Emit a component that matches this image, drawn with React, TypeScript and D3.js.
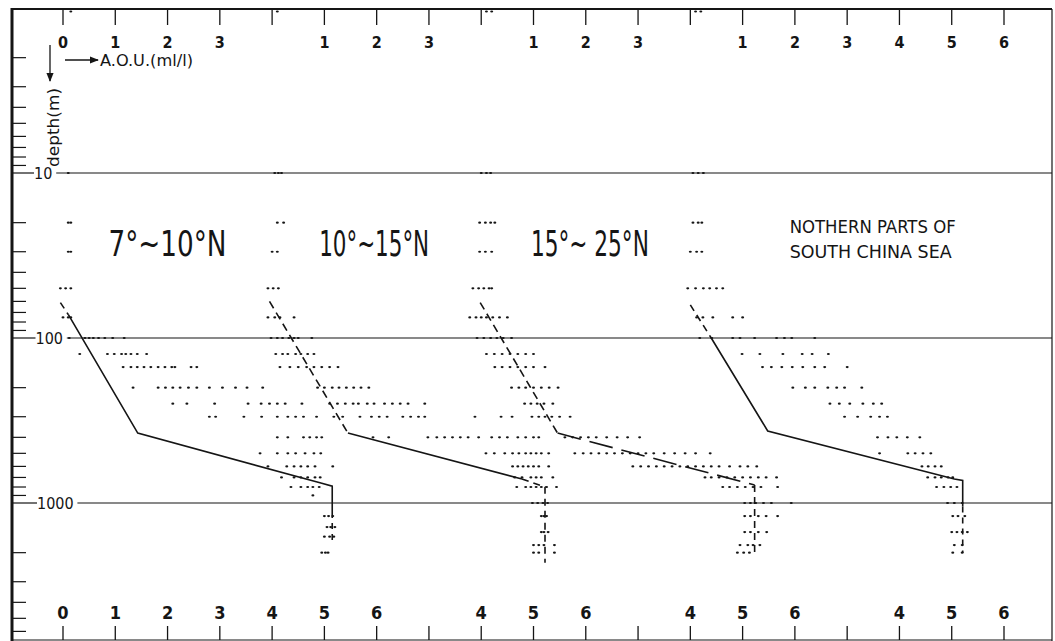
import * as d3 from "d3";
import React from "react";

// A.O.U. vertical profiles, four latitude bands, offset by 4 units each
const panelOffsets = [0, 4, 8, 12];
const topTickLabels = [[0, 1, 2, 3], [1, 2, 3], [1, 2, 3], [1, 2, 3, 4, 5, 6]];
const bottomTickLabels = [[0, 1, 2, 3, 4, 5, 6], [4, 5, 6], [4, 5, 6], [4, 5, 6]];
const panelTitles = ["7°~10°N", "10°~15°N", "15°~ 25°N"];
const regionTitle = ["NOTHERN PARTS OF", "SOUTH CHINA SEA"];
const depthLabels = [10, 100, 1000];
const surfaceDepth = 1.05;

// [depth (m), AOU values (ml/l)]
const rows1: [number, number[]][] = [
  [surfaceDepth, [0.15]],
  [10, [0.1]],
  [20, [0.1, 0.15]],
  [30, [0.1, 0.15]],
  [50, [-0.05, 0.05, 0.15]],
  [75, [0.0, 0.1, 0.15]],
  [100, [0.12, 0.42, 0.5, 0.58, 0.68, 0.8, 0.95, 1.17]],
  [125, [0.32, 0.85, 0.98, 1.12, 1.2, 1.3, 1.42, 1.6]],
  [150, [1.15, 1.3, 1.42, 1.55, 1.68, 1.82, 1.95, 2.08, 2.14, 2.45, 2.56]],
  [200, [1.34, 1.82, 1.96, 2.1, 2.24, 2.4, 2.56, 2.8, 3.05, 3.3, 3.52, 3.82]],
  [250, [2.1, 2.37, 2.9, 3.54, 3.79, 3.95, 4.1, 4.25, 4.57]],
  [300, [2.8, 2.92, 3.46, 3.8, 4.1, 4.3, 4.45, 4.6, 4.85]],
  [400, [4.1, 4.3, 4.6, 4.72, 4.85, 4.95]],
  [500, [3.77, 4.1, 4.3, 4.45, 4.63, 4.8, 4.93]],
  [600, [3.92, 4.28, 4.42, 4.55, 4.68, 4.82, 5.16]],
  [700, [4.18, 4.42, 4.55, 4.68, 4.82, 4.92]],
  [800, [4.36, 4.55, 4.68, 4.78, 4.9]],
  [900, [4.78]],
  [1200, [5.0, 5.08, 5.16]],
  [1400, [5.05, 5.12, 5.2]],
  [1600, [5.0, 5.1, 5.18]],
  [2000, [4.95, 5.02, 5.07]],
];

const rows2: [number, number[]][] = [
  [surfaceDepth, [0.1]],
  [10, [0.05, 0.12, 0.18]],
  [20, [0.1, 0.22]],
  [30, [0.0, 0.1]],
  [50, [-0.08, 0.02, 0.12]],
  [75, [-0.08, 0.05, 0.15, 0.42]],
  [100, [-0.02, 0.1, 0.2, 0.32, 0.42, 0.5, 0.76]],
  [125, [0.07, 0.2, 0.3, 0.45, 0.55, 0.68, 0.8]],
  [150, [0.15, 0.34, 0.5, 0.66, 0.8, 0.95, 1.1, 1.26]],
  [200, [0.87, 1.0, 1.15, 1.28, 1.42, 1.56, 1.7, 1.85]],
  [250, [1.1, 1.25, 1.4, 1.55, 1.65, 1.82, 1.95, 2.15, 2.3, 2.45, 2.6, 2.92]],
  [300, [1.18, 1.35, 1.68, 1.9, 2.05, 2.2, 2.5, 2.65, 2.8, 2.92, 3.88, 4.38, 4.59]],
  [400, [1.93, 2.23, 2.98, 3.15, 3.3, 3.45, 3.6, 3.75, 3.95, 4.2, 4.35, 4.5, 4.7, 4.85, 5.0, 5.1]],
  [500, [4.09, 4.25, 4.45, 4.6, 4.72, 4.85, 4.95, 5.05, 5.15, 5.29]],
  [600, [4.6, 4.7, 4.8, 4.9, 5.0, 5.1, 5.29]],
  [700, [4.64, 4.78, 4.95, 5.05, 5.15, 5.37]],
  [800, [4.68, 4.85, 4.95, 5.05, 5.15, 5.25, 5.44]],
  [1000, [4.98, 5.08, 5.18, 5.27]],
  [1200, [5.15, 5.2, 5.25]],
  [1500, [5.15, 5.2, 5.28]],
  [1800, [5.0, 5.1, 5.2, 5.4]],
  [2000, [5.0, 5.1, 5.4]],
];

const rows3: [number, number[]][] = [
  [surfaceDepth, [0.1, 0.2]],
  [10, [0.0, 0.1, 0.18]],
  [20, [-0.03, 0.08, 0.18, 0.26]],
  [30, [-0.03, 0.08, 0.2]],
  [50, [-0.16, -0.05, 0.05, 0.15, 0.2]],
  [75, [-0.22, -0.1, 0.0, 0.1, 0.22, 0.35, 0.5]],
  [100, [-0.08, 0.05, 0.18, 0.3, 0.42, 0.58]],
  [125, [0.1, 0.25, 0.4, 0.55, 0.7, 0.85, 1.0]],
  [150, [0.26, 0.4, 0.55, 0.7, 0.85, 1.0, 1.22]],
  [200, [0.58, 0.72, 0.85, 1.0, 1.15, 1.3, 1.47]],
  [250, [0.83, 0.95, 1.07, 1.2, 1.37]],
  [300, [0.97, 1.1, 1.22, 1.35, 1.5, 1.7]],
  [400, [1.6, 1.75, 1.9, 2.05, 2.2, 2.4, 2.6, 2.8, 3.03]],
  [500, [1.79, 1.95, 2.1, 2.25, 2.4, 2.55, 2.7, 2.85, 3.0, 3.15, 3.3, 3.5, 3.7, 3.9, 4.1, 4.38]],
  [600, [2.9, 3.05, 3.2, 3.35, 3.5, 3.65, 3.8, 3.95, 4.1, 4.25, 4.4, 4.55, 4.75, 4.95, 5.1, 5.27]],
  [700, [4.28, 4.4, 4.55, 4.7, 4.85, 5.0, 5.15, 5.3, 5.45, 5.65]],
  [800, [4.62, 4.75, 4.9, 5.05, 5.2, 5.35, 5.67]],
  [1000, [5.04, 5.15, 5.25, 5.4, 5.55, 5.93]],
  [1200, [5.04, 5.15, 5.3, 5.45, 5.67]],
  [1500, [5.04, 5.15, 5.3, 5.46]],
  [1800, [4.95, 5.1, 5.2, 5.33]],
  [2000, [4.9, 5.02, 5.13]],
];

const rows4: [number, number[]][] = [
  [surfaceDepth, [0.1, 0.2]],
  [10, [0.05, 0.15, 0.25]],
  [20, [0.05, 0.15, 0.22]],
  [30, [0.0, 0.12, 0.22]],
  [50, [-0.05, 0.1, 0.25, 0.37, 0.5, 0.62]],
  [75, [0.12, 0.24, 0.43, 0.81, 1.0]],
  [100, [0.18, 0.41, 0.81, 0.95, 1.23, 1.65, 1.8, 1.94, 2.38]],
  [125, [0.99, 1.33, 1.77, 2.14, 2.33, 2.64]],
  [150, [1.38, 1.55, 1.75, 1.95, 2.15, 2.38, 2.57, 3.0]],
  [200, [1.96, 2.2, 2.38, 2.63, 2.8, 2.95, 3.28]],
  [250, [2.67, 2.85, 3.05, 3.3, 3.5, 3.66]],
  [300, [2.95, 3.2, 3.45, 3.62, 3.77]],
  [400, [3.58, 3.78, 3.95, 4.15, 4.39]],
  [500, [3.62, 4.16, 4.3, 4.45, 4.6]],
  [600, [4.43, 4.55, 4.68, 4.8]],
  [700, [4.54, 4.68, 4.8, 4.93, 5.02]],
  [800, [4.71, 4.85, 4.98, 5.1]],
  [1000, [4.92, 5.05, 5.2]],
  [1200, [5.02, 5.12, 5.25]],
  [1500, [5.0, 5.1, 5.2, 5.3]],
  [1800, [5.05, 5.2]],
  [2000, [5.02, 5.2]],
];

// fitted profile pieces: [AOU, depth]
const fit1: [number, number][][] = [
  [[-0.05, 61], [0.1, 72]],
  [[0.1, 72], [1.43, 377], [4.95, 760], [5.15, 790], [5.15, 1135]],
  [[5.15, 1135], [5.15, 1700]],
];
const fit2: [number, number][][] = [
  [[-0.05, 60], [1.45, 377]],
  [[1.45, 377], [4.78, 716]],
  [[4.78, 716], [5.22, 800], [5.22, 2300]],
];
const fit3: [number, number][][] = [
  [[-0.02, 61], [1.46, 377]],
  [[1.46, 377], [5.23, 778]],
  [[5.23, 778], [5.23, 2010]],
];
const fit4: [number, number][][] = [
  [[0.0, 63], [0.4, 100]],
  [[0.4, 100], [1.48, 366], [5.05, 716], [5.21, 730], [5.21, 1050]],
  [[5.21, 1050], [5.21, 2010]],
];

const allRows = [rows1, rows2, rows3, rows4];
const allFits = [fit1, fit2, fit3, fit4];
const fitDash = [
  ["7 5", null, "6 5"],
  ["8 5", null, "7 5"],
  ["8 5", "24 9", "7 5"],
  ["7 5", null, "6 5"],
];

const W = 1055;
const H = 641;
const INK = "#151515";
const FONT = "'DejaVu Sans Condensed', 'DejaVu Sans', sans-serif";

export default function App() {
  const left = 12;
  const right = 1052;
  const top = 9;
  const bottom = 640;

  const x = d3.scaleLinear().domain([0, 18]).range([63, 1004]);
  const y = d3.scaleLog().domain([1, 1000]).range([8, 503]);

  const line = d3
    .line<[number, number]>()
    .x((d) => d[0])
    .y((d) => d[1]);

  const units = d3.range(0, 19);

  // minor depth ticks 2..9 x 10^k
  const minor: number[] = [];
  [1, 10, 100, 1000].forEach((b) => {
    for (let m = 2; m <= 9; m++) {
      const v = b * m;
      if (y(v) < bottom) minor.push(v);
    }
  });

  return (
    <svg
      width={W}
      height={H}
      style={{ position: "absolute", left: 0, top: 0, background: "#fff" }}
      fontFamily={FONT}
    >
      <rect x={0} y={0} width={W} height={H} fill="#fff" />

      {/* frame */}
      <line x1={left} x2={left} y1={top - 1} y2={H} stroke={INK} strokeWidth={3} />
      <line x1={left} x2={right} y1={top} y2={top} stroke={INK} strokeWidth={2} />
      <line x1={right} x2={right} y1={top} y2={H} stroke={INK} strokeWidth={1.2} />
      <line x1={left} x2={right} y1={bottom} y2={bottom} stroke={INK} strokeWidth={1.2} />

      {/* top & bottom ticks */}
      {units.map((u) => (
        <g key={"t" + u}>
          <line x1={x(u)} x2={x(u)} y1={top} y2={top + 16} stroke={INK} strokeWidth={1.3} />
          <line x1={x(u)} x2={x(u)} y1={bottom - 14} y2={bottom} stroke={INK} strokeWidth={1.3} />
        </g>
      ))}
      {topTickLabels.map((labs, p) =>
        labs.map((v) => (
          <text
            key={"tl" + p + v}
            x={x(panelOffsets[p] + v)}
            y={48}
            textAnchor="middle"
            fontSize={16}
            fontWeight={700}
            fill={INK}
          >
            {v}
          </text>
        ))
      )}
      {bottomTickLabels.map((labs, p) =>
        labs.map((v) => (
          <text
            key={"bl" + p + v}
            x={x(panelOffsets[p] + v)}
            y={619}
            textAnchor="middle"
            fontSize={18}
            fontWeight={700}
            fill={INK}
          >
            {v}
          </text>
        ))
      )}

      {/* depth axis */}
      {minor.map((d) => (
        <line key={"m" + d} x1={left} x2={left + 14} y1={y(d)} y2={y(d)} stroke={INK} strokeWidth={1.2} />
      ))}
      {depthLabels.map((d, i) => {
        const lx = 34 + i * 1.5;
        const lw = String(d).length * 9.1;
        return (
          <g key={"d" + d}>
            <line x1={left} x2={lx} y1={y(d)} y2={y(d)} stroke={INK} strokeWidth={1.2} />
            <text x={lx} y={y(d) + 6} fontSize={16} fill={INK}>
              {d}
            </text>
            <line x1={lx + lw + 4} x2={right} y1={y(d)} y2={y(d)} stroke={INK} strokeWidth={1.1} />
          </g>
        );
      })}

      {/* axis captions */}
      <defs>
        <marker id="ah" viewBox="0 0 10 10" refX={9} refY={5} markerWidth={7} markerHeight={7} orient="auto">
          <path d="M0,1 L10,5 L0,9 z" fill={INK} />
        </marker>
      </defs>
      <line x1={65} x2={98} y1={60} y2={60} stroke={INK} strokeWidth={1.3} markerEnd="url(#ah)" />
      <text x={100} y={66} fontSize={15} fill={INK} textLength={93} lengthAdjust="spacingAndGlyphs">
        A.O.U.(ml/l)
      </text>
      <line x1={50} x2={50} y1={45} y2={81} stroke={INK} strokeWidth={1.3} markerEnd="url(#ah)" />
      <text
        transform="translate(59,167) rotate(-90)"
        fontSize={15}
        fill={INK}
        textLength={79}
        lengthAdjust="spacingAndGlyphs"
      >
        depth(m)
      </text>

      {/* panel titles */}
      {panelTitles.map((t, i) => {
        const spans = [
          [x(0.87), 118],
          [x(4.9), 110],
          [x(8.95), 118],
        ][i];
        return (
          <text
            key={t}
            x={spans[0]}
            y={256}
            fontSize={35}
            fill={INK}
            textLength={spans[1]}
            lengthAdjust="spacingAndGlyphs"
          >
            {t}
          </text>
        );
      })}
      {regionTitle.map((t, i) => (
        <text
          key={t}
          x={x(13.9)}
          y={233 + i * 25}
          fontSize={17}
          fill={INK}
          textLength={i === 0 ? 166 : 162}
          lengthAdjust="spacingAndGlyphs"
        >
          {t}
        </text>
      ))}

      {/* fitted profiles */}
      {allFits.map((fit, p) =>
        fit.map((seg, s) => (
          <path
            key={"f" + p + s}
            d={line(seg.map((d) => [x(panelOffsets[p] + d[0]), y(d[1])]) as [number, number][]) || ""}
            fill="none"
            stroke={INK}
            strokeWidth={1.6}
            strokeDasharray={fitDash[p][s] || undefined}
          />
        ))
      )}

      {/* observations */}
      {allRows.map((rows, p) =>
        rows.map(([depth, vals]) =>
          vals.map((v, k) => (
            <ellipse
              key={"o" + p + depth + k}
              cx={x(panelOffsets[p] + v)}
              cy={y(depth)}
              rx={1.5}
              ry={1.1}
              fill={INK}
            />
          ))
        )
      )}
    </svg>
  );
}
